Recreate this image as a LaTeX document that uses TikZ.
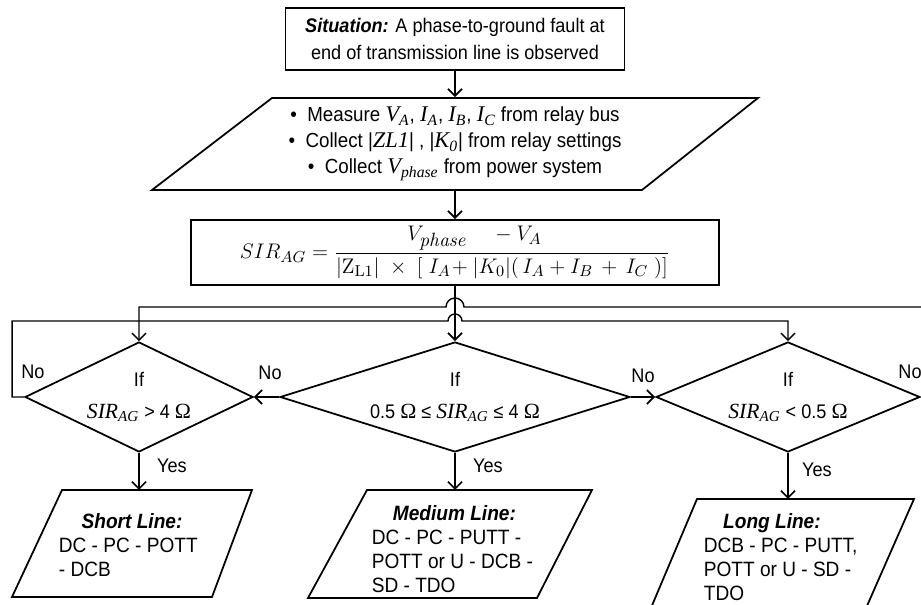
\documentclass[tikz,border=0pt]{standalone}
\usepackage{amsmath}
\usepackage[no-math]{fontspec}
\setmainfont{Liberation Sans}[FakeStretch=0.92]
\newfontfamily\serfont{Liberation Serif}[Scale=1.1]
\usetikzlibrary{shapes.geometric,arrows.meta}
\newcommand{\sirag}{{\serfont\itshape SIR\textsubscript{AG}}}
\newcommand{\omg}{{\serfont Ω}}
\newcommand{\ital}[2]{{\serfont\itshape #1\textsubscript{#2}}}

\begin{document}
\begin{tikzpicture}
  [x=0.02cm,y=0.02cm,line width=1pt,>={Straight Barb[length=4pt,width=8pt]},
   every node/.style={font=\fontsize{11.2}{15}\selectfont},
   box/.style={draw,rectangle,inner sep=0pt,align=center},
   dia/.style={draw,diamond,inner sep=0pt,align=center,font=\fontsize{11.2}{18}\selectfont},
   txt/.style={inner sep=0pt,align=left,anchor=west,font=\fontsize{11.8}{13.6}\selectfont},
   lbl/.style={inner sep=1pt}]
  \useasboundingbox (0,0) rectangle (921,605);
  \clip (0,0) rectangle (921,605);

  % situation and inputs
  \node[box,minimum width=6.78cm,minimum height=1.24cm,font=\fontsize{11.2}{15.5}\selectfont] (sit) at (455,566)
    {\textbf{\textit{Situation:}} A phase-to-ground fault at\\end of transmission line is observed};
  \draw (152,415) -- (642,415) -- (758,507) -- (272,507) -- cycle;
  \node[align=center,minimum height=1.84cm,inner sep=0pt,font=\fontsize{11.6}{14.8}\selectfont] (meas) at (455,461)
    {\textbullet\ \ Measure \ital{V}{A}, \ital{I}{A}, \ital{I}{B}, \ital{I}{C} from relay bus\\
     \textbullet\ \ Collect |{\serfont\itshape ZL1}| , |\ital{K}{0}| from relay settings\\
     \textbullet\ \ Collect \ital{V}{phase} from power system};
  \node[box,minimum width=10.56cm,minimum height=1.3cm,font=\fontsize{13}{16}\selectfont] (sir) at (455,352.5)
    {$SIR_{AG}=\dfrac{V_{\mbox{\fontsize{10.5}{11}\selectfont$\mathit{phase}$}}\quad -V_A\hspace{1.1cm}}{|\mathrm{Z}_{\mathrm{L1}}|\ \times\ [\ I_A\!+|K_0|(\,I_A+I_B\,+\,I_C\ )]}$};

  % decisions
  \node[dia,aspect=2.07,minimum width=4.56cm,minimum height=2.2cm] (dl) at (139,208) {If\\\sirag{} > 4 \omg};
  \node[dia,aspect=3.2,minimum width=7cm,minimum height=2.2cm] (dm) at (455,208) {If\\0.5 \omg{} ≤ \sirag{} ≤ 4 \omg};
  \node[dia,aspect=2.4,minimum width=5.28cm,minimum height=2.2cm] (dr) at (788,208) {If\\\sirag{} < 0.5 \omg};

  \node[lbl] (no1) at (33,233) {No};
  \node[lbl] (no2) at (270,232) {No};
  \node[lbl] (no3) at (643,229) {No};
  \node[lbl] (no4) at (910,233) {No};
  \node[lbl] (yes1) at (172,139) {Yes};
  \node[lbl] (yes2) at (488,139) {Yes};
  \node[lbl] (yes3) at (817,135) {Yes};

  % line types
  \draw (12,8) -- (212,8) -- (252,115) -- (62,115) -- cycle;
  \coordinate (shortTop) at (139,115);
  \node[txt] (short) at (58,60) {\hspace*{13pt}\textbf{\textit{Short Line:}}\\DC - PC - POTT\\- DCB};
  \draw (308,7) -- (537,7) -- (592,115) -- (367,115) -- cycle;
  \coordinate (medTop) at (455,115);
  \node[txt] (medium) at (371,56) {\hspace*{12pt}\textbf{\textit{Medium Line:}}\\DC - PC - PUTT -\\POTT or U - DCB -\\SD - TDO};
  \draw (648,-10) -- (863,-10) -- (914,106) -- (697,106) -- cycle;
  \coordinate (longTop) at (788,106);
  \node[txt] (long) at (703,48) {\hspace*{11pt}\textbf{\textit{Long Line:}}\\DCB - PC - PUTT,\\POTT or U - SD -\\TDO};

  \path[->,draw]
    (sit) edge (meas)
    (meas) edge (sir)
    (sir) edge (dm)
    (dm) edge (dl)
    (dm) edge (dr)
    (dl) edge (shortTop)
    (dm) edge (medTop)
    (dr) edge (longTop);

  % loops back
  \draw[->,line width=0.8pt] (dr.east) -- ++(30,0) |- (464,298)
    arc[start angle=0,end angle=180,radius=0.18cm] -| (dl.north);
  \draw[->,line width=0.8pt] (dl.west) -- ++(-12,0) |- (448,284)
    arc[start angle=180,end angle=0,radius=0.14cm] -| (dr.north);
\end{tikzpicture}
\end{document}
